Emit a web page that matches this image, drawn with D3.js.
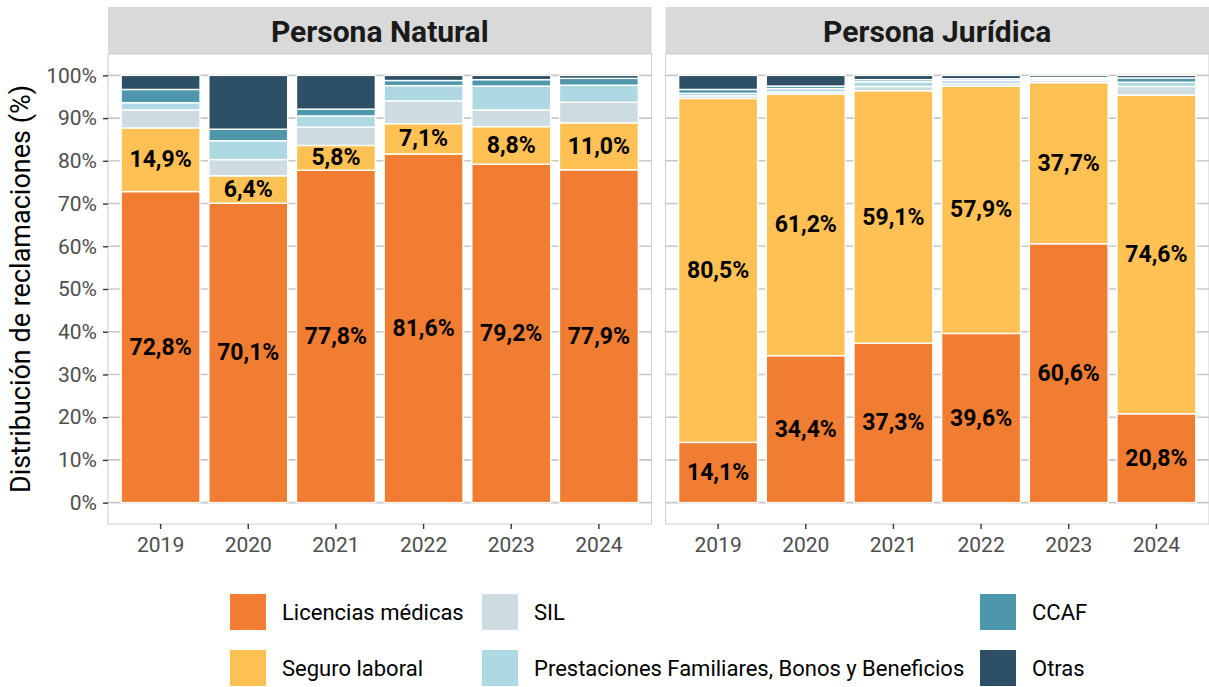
<!DOCTYPE html>
<html>
<head>
<meta charset="utf-8">
<script src="https://cdn.jsdelivr.net/npm/d3@7"></script>
<style>
  html, body { margin: 0; padding: 0; background: #ffffff; }
  svg { display: block; font-family: Roboto, "Liberation Sans", Arial, sans-serif; }
</style>
</head>
<body>
<svg id="chart" width="1209" height="687"></svg>
<script>
// ---------- DATA ----------
const years = ["2019", "2020", "2021", "2022", "2023", "2024"];
const panels = ["Persona Natural", "Persona Jurídica"];
const categories = ["Licencias médicas", "Seguro laboral", "SIL",
  "Prestaciones Familiares, Bonos y Beneficios", "CCAF", "Otras"];
const colors = ["#F07D31", "#FFC154", "#CDDCE1", "#AED8E2", "#4E96AC", "#2E5066"];

// Persona Natural (%)
const pnLicencias   = [72.8, 70.1, 77.8, 81.6, 79.2, 77.9];
const pnSeguro      = [14.9,  6.4,  5.8,  7.1,  8.8, 11.0];
const pnSIL         = [ 4.2,  3.8,  4.3,  5.3,  3.9,  4.8];
const pnPrestaciones= [ 1.7,  4.4,  2.6,  3.6,  5.6,  4.0];
const pnCCAF        = [ 3.1,  2.7,  1.6,  1.2,  1.5,  1.6];
const pnOtras       = [ 3.3, 12.6,  7.9,  1.2,  1.0,  0.7];

// Persona Jurídica (%)
const pjLicencias   = [14.1, 34.4, 37.3, 39.6, 60.6, 20.8];
const pjSeguro      = [80.5, 61.2, 59.1, 57.9, 37.7, 74.6];
const pjSIL         = [ 0.6,  0.5,  1.0,  0.6,  0.5,  2.0];
const pjPrestaciones= [ 0.6,  0.8,  1.1,  0.7,  0.4,  1.0];
const pjCCAF        = [ 0.9,  0.6,  0.5,  0.4,  0.3,  1.0];
const pjOtras       = [ 3.3,  2.5,  1.0,  0.8,  0.5,  0.6];

const yTicks = [0, 10, 20, 30, 40, 50, 60, 70, 80, 90, 100];
const labeledCategories = ["Licencias médicas", "Seguro laboral"];

// ---------- BUILD TABLES ----------
function buildRows(series) {
  return years.map((yr, i) => {
    const row = { year: yr };
    categories.forEach((c, k) => row[c] = series[k][i]);
    return row;
  });
}
const panelData = [
  buildRows([pnLicencias, pnSeguro, pnSIL, pnPrestaciones, pnCCAF, pnOtras]),
  buildRows([pjLicencias, pjSeguro, pjSIL, pjPrestaciones, pjCCAF, pjOtras])
];

// ---------- LAYOUT ----------
const svg = d3.select("#chart");
const panelX = [[108, 651.5], [665.5, 1209]];
const stripTop = 7, panelTop = 54, panelBottom = 524;

const y = d3.scaleLinear().domain([-5, 105]).range([panelBottom, panelTop]);
const color = d3.scaleOrdinal().domain(categories).range(colors);
const stack = d3.stack().keys(categories);
const fmt = v => d3.format(".1f")(v).replace(".", ",") + "%";

panels.forEach((pname, p) => {
  const [x0, x1] = panelX[p];
  const x = d3.scaleBand().domain(years).range([x0, x1]).paddingInner(0.1).paddingOuter(0.15);
  const g = svg.append("g");

  // strip
  g.append("rect").attr("x", x0).attr("y", stripTop).attr("width", x1 - x0)
    .attr("height", panelTop - stripTop).attr("fill", "#D9D9D9");
  g.append("text").attr("x", (x0 + x1) / 2).attr("y", (stripTop + panelTop) / 2 + 1)
    .attr("text-anchor", "middle").attr("dominant-baseline", "central")
    .attr("font-size", 30).attr("font-weight", "bold").attr("fill", "#1A1A1A").text(pname);

  // gridlines
  g.append("g").selectAll("line").data(yTicks).join("line")
    .attr("x1", x0).attr("x2", x1).attr("y1", d => y(d)).attr("y2", d => y(d))
    .attr("stroke", "#C8C8C8").attr("stroke-width", 1.6);

  // bars
  const series = stack(panelData[p]);
  g.append("g").selectAll("g").data(series).join("g")
    .attr("fill", d => color(d.key))
    .selectAll("rect").data(d => d).join("rect")
    .attr("x", d => x(d.data.year))
    .attr("width", x.bandwidth())
    .attr("y", d => y(d[1]))
    .attr("height", d => y(d[0]) - y(d[1]))
    .attr("stroke", "#FFFFFF").attr("stroke-width", 1.4);

  // labels
  series.filter(s => labeledCategories.includes(s.key)).forEach(s => {
    g.append("g").selectAll("text").data(s).join("text")
      .attr("x", d => x(d.data.year) + x.bandwidth() / 2)
      .attr("y", d => y((d[0] + d[1]) / 2))
      .attr("text-anchor", "middle").attr("dominant-baseline", "central")
      .attr("font-size", 23).attr("font-weight", "bold").attr("fill", "#000000")
      .text(d => fmt(d.data[s.key]));
  });

  // panel border
  g.append("rect").attr("x", x0).attr("y", panelTop).attr("width", x1 - x0)
    .attr("height", panelBottom - panelTop).attr("fill", "none")
    .attr("stroke", "#CCCCCC").attr("stroke-width", 1);

  // x axis
  const xa = g.append("g").attr("transform", `translate(0,${panelBottom})`)
    .call(d3.axisBottom(x).tickSize(5).tickPadding(8));
  xa.select(".domain").remove();
  xa.selectAll("line").attr("stroke", "#333333").attr("stroke-width", 1.4);
  xa.selectAll("text").attr("font-size", 21).attr("fill", "#4D4D4D")
    .attr("font-family", "Roboto, sans-serif");

  // y axis (left panel only)
  if (p === 0) {
    const ya = g.append("g").attr("transform", `translate(${x0},0)`)
      .call(d3.axisLeft(y).tickValues(yTicks).tickFormat(d => d + "%").tickSize(5).tickPadding(6));
    ya.select(".domain").remove();
    ya.selectAll("line").attr("stroke", "#333333").attr("stroke-width", 1.4);
    ya.selectAll("text").attr("font-size", 21).attr("fill", "#4D4D4D")
      .attr("font-family", "Roboto, sans-serif");
  }
});

// y title
svg.append("text")
  .attr("transform", `translate(21,${y(50)}) rotate(-90)`)
  .attr("text-anchor", "middle").attr("dominant-baseline", "central")
  .attr("font-size", 27).attr("fill", "#000000")
  .text("Distribución de reclamaciones (%)");

// legend
const legendCols = [230, 482, 980];
const legendRows = [594, 650];
const legendOrder = [
  [categories[0], 0, 0], [categories[1], 0, 1],
  [categories[2], 1, 0], [categories[3], 1, 1],
  [categories[4], 2, 0], [categories[5], 2, 1]
];
const lg = svg.append("g");
legendOrder.forEach(([name, c, r]) => {
  lg.append("rect").attr("x", legendCols[c]).attr("y", legendRows[r])
    .attr("width", 36).attr("height", 36).attr("fill", color(name));
  lg.append("text").attr("x", legendCols[c] + 52).attr("y", legendRows[r] + 18)
    .attr("dominant-baseline", "central").attr("font-size", 22).attr("fill", "#000000")
    .text(name);
});
</script>
</body>
</html>
